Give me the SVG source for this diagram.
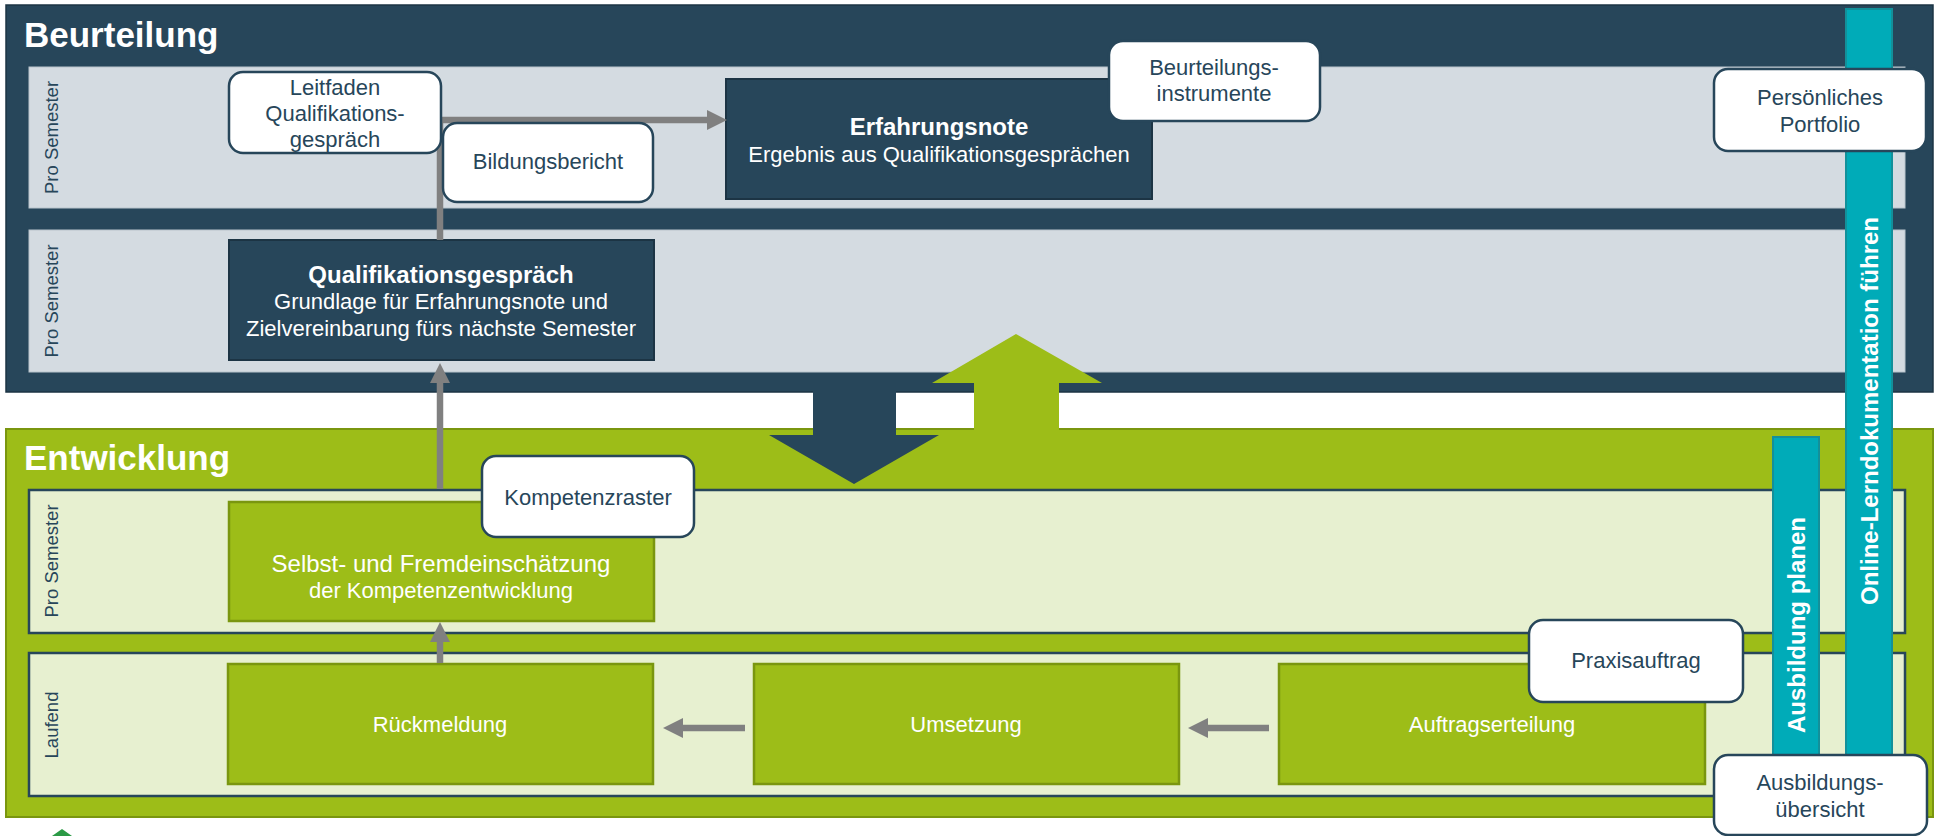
<svg xmlns="http://www.w3.org/2000/svg" width="1936" height="836" viewBox="0 0 1936 836">
<defs>
<style>
text{font-family:"Liberation Sans",Arial,sans-serif}
.title{font-size:35px;font-weight:bold;fill:#fff}
.lanelbl{font-size:18.5px;fill:#27465a;text-anchor:middle}
.contB{fill:#27465a;stroke:#1c3444;stroke-width:1.5}
.contE{fill:#9dbd18;stroke:#7a960f;stroke-width:2}
.laneB{fill:#d4dbe1;stroke:#b9c4cc;stroke-width:1}
.laneE{fill:#e7f0d0;stroke:#27465a;stroke-width:2.5}
.dark{fill:#27465a;stroke:#1c3444;stroke-width:2}
.green{fill:#9dbd18;stroke:#7a960f;stroke-width:2.5}
.callout{fill:#fff;stroke:#27465a;stroke-width:2.5}
.ct{font-size:22px;fill:#27465a;text-anchor:middle}
.wt{fill:#fff;text-anchor:middle}
.bar{fill:#00abb8;stroke:#13909a;stroke-width:2}
.bart{font-size:24px;font-weight:bold;fill:#fff;text-anchor:middle}
.conn{fill:none;stroke:#808080;stroke-width:6.5}
</style>
<marker id="ah" markerUnits="userSpaceOnUse" markerWidth="22" markerHeight="22" viewBox="0 0 22 22" refX="0" refY="11" orient="auto"><path d="M0,1 L20,11 L0,21 Z" fill="#808080"/></marker>
</defs>

<g id="beurteilung">
<rect class="contB" x="6" y="5" width="1927" height="387"/>
<text class="title" x="24" y="47">Beurteilung</text>
</g>
<g id="lane-b1">
<rect class="laneB" x="29" y="67" width="1876" height="141"/>
<text class="lanelbl" transform="translate(58,137.5) rotate(-90)">Pro Semester</text>
</g>
<g id="lane-b2">
<rect class="laneB" x="29" y="230" width="1876" height="142"/>
<text class="lanelbl" transform="translate(58,301) rotate(-90)">Pro Semester</text>
</g>

<g id="entwicklung">
<rect class="contE" x="6" y="429" width="1927" height="388"/>
<text class="title" x="24" y="470">Entwicklung</text>
</g>
<g id="lane-e1">
<rect class="laneE" x="29" y="490" width="1876" height="143"/>
<text class="lanelbl" transform="translate(58,561) rotate(-90)">Pro Semester</text>
</g>
<g id="lane-e2">
<rect class="laneE" x="29" y="653" width="1876" height="143"/>
<text class="lanelbl" transform="translate(58,725) rotate(-90)">Laufend</text>
</g>

<g id="qualifikationsgespraech">
<rect class="dark" x="229" y="240" width="425" height="120"/>
<text class="wt" x="441" y="283" font-size="24" font-weight="bold">Qualifikationsgespräch</text>
<text class="wt" x="441" y="309" font-size="22">Grundlage für Erfahrungsnote und</text>
<text class="wt" x="441" y="336" font-size="22">Zielvereinbarung fürs nächste Semester</text>
</g>
<g id="erfahrungsnote">
<rect class="dark" x="726" y="79" width="426" height="120"/>
<text class="wt" x="939" y="135" font-size="24" font-weight="bold">Erfahrungsnote</text>
<text class="wt" x="939" y="162" font-size="22">Ergebnis aus Qualifikationsgesprächen</text>
</g>
<g id="selbsteinschaetzung">
<rect class="green" x="229" y="502" width="425" height="119"/>
<text class="wt" x="441" y="572" font-size="24">Selbst- und Fremdeinschätzung</text>
<text class="wt" x="441" y="598" font-size="22">der Kompetenzentwicklung</text>
</g>
<g id="rueckmeldung">
<rect class="green" x="228" y="664" width="425" height="120"/>
<text class="wt" x="440" y="732" font-size="22">Rückmeldung</text>
</g>
<g id="umsetzung">
<rect class="green" x="754" y="664" width="425" height="120"/>
<text class="wt" x="966" y="732" font-size="22">Umsetzung</text>
</g>
<g id="auftragserteilung">
<rect class="green" x="1279" y="664" width="426" height="120"/>
<text class="wt" x="1492" y="732" font-size="22">Auftragserteilung</text>
</g>

<g id="connectors">
<polygon points="813,391 896,391 896,435 939,435 854,484 769,435 813,435" fill="#27465a"/>
<polygon points="1016,334 1102,383 1059,383 1059,431 974,431 974,383 932,383" fill="#9dbd18"/>
<path class="conn" d="M440,240 V120 H707" marker-end="url(#ah)"/>
<path class="conn" d="M440,489 V383" marker-end="url(#ah)"/>
<path class="conn" d="M440,663 V642" marker-end="url(#ah)"/>
<path class="conn" d="M745,728 H683" marker-end="url(#ah)"/>
<path class="conn" d="M1269,728 H1208" marker-end="url(#ah)"/>
</g>

<g id="leitfaden">
<rect class="callout" x="229" y="72" width="212" height="81" rx="14"/>
<text class="ct" x="335" y="95">Leitfaden</text>
<text class="ct" x="335" y="121">Qualifikations-</text>
<text class="ct" x="335" y="147">gespräch</text>
</g>
<g id="bildungsbericht">
<rect class="callout" x="443" y="123" width="210" height="79" rx="14"/>
<text class="ct" x="548" y="169">Bildungsbericht</text>
</g>
<g id="beurteilungsinstrumente">
<rect class="callout" x="1109" y="41" width="211" height="80" rx="14"/>
<text class="ct" x="1214" y="75">Beurteilungs-</text>
<text class="ct" x="1214" y="101">instrumente</text>
</g>
<g id="kompetenzraster">
<rect class="callout" x="482" y="456" width="212" height="81" rx="14"/>
<text class="ct" x="588" y="505">Kompetenzraster</text>
</g>
<g id="praxisauftrag">
<rect class="callout" x="1529" y="620" width="214" height="82" rx="14"/>
<text class="ct" x="1636" y="668">Praxisauftrag</text>
</g>

<g id="online-lerndokumentation">
<rect class="bar" x="1846" y="9" width="46" height="746"/>
<text class="bart" transform="translate(1878,411) rotate(-90)">Online-Lerndokumentation führen</text>
</g>
<g id="ausbildung-planen">
<rect class="bar" x="1773" y="437" width="46" height="318"/>
<text class="bart" transform="translate(1805,625) rotate(-90)">Ausbildung planen</text>
</g>

<g id="portfolio">
<rect class="callout" x="1714" y="69" width="212" height="82" rx="14"/>
<text class="ct" x="1820" y="105">Persönliches</text>
<text class="ct" x="1820" y="132">Portfolio</text>
</g>
<g id="ausbildungsuebersicht">
<rect class="callout" x="1714" y="755" width="213" height="80" rx="14"/>
<text class="ct" x="1820" y="790">Ausbildungs-</text>
<text class="ct" x="1820" y="817">übersicht</text>
</g>

<polygon points="52,836 62,829 72,836" fill="#2b9a46"/>
</svg>
